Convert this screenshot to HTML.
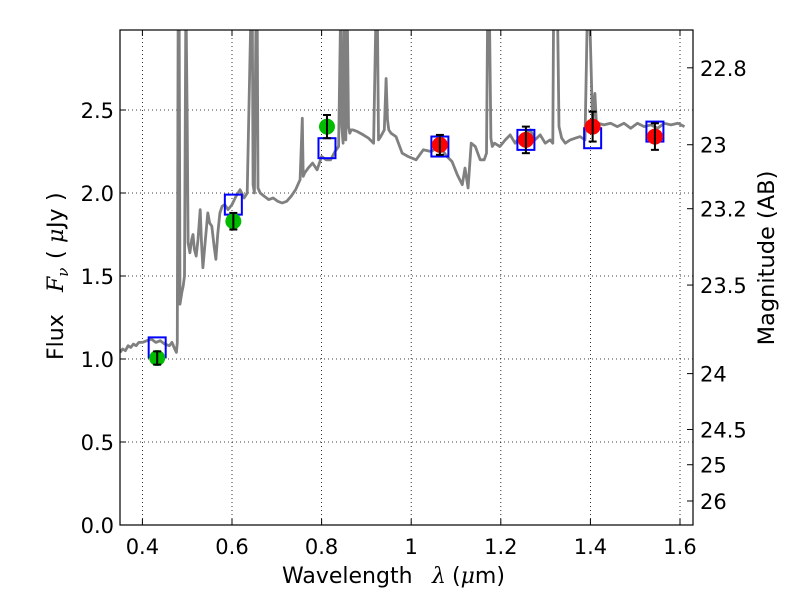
<!DOCTYPE html>
<html><head><meta charset="utf-8"><style>
body{margin:0;background:#fff;}
svg text{font-family:"DejaVu Sans","Liberation Sans",sans-serif;}
</style></head><body>
<svg id="c" width="800" height="600" viewBox="0 0 800 600" xmlns="http://www.w3.org/2000/svg">
<defs><clipPath id="clip"><rect x="120" y="30" width="573" height="495"/></clipPath></defs>
<rect x="0" y="0" width="800" height="600" fill="#fff"/>
<g id="grid"></g>
<g id="spec" clip-path="url(#clip)"></g>
<g id="marks"></g>
<rect x="120" y="30" width="573" height="495" fill="none" stroke="#000" stroke-width="1.2"/>
<g id="axes"></g>
<text y="583" font-size="22"><tspan x="282">Wavelength</tspan><tspan x="432" font-style="italic" font-family="DejaVu Serif,serif">λ</tspan><tspan x="452">(<tspan font-style="italic" font-family="DejaVu Serif,serif">μ</tspan>m)</tspan></text>
<text transform="translate(63,0) rotate(-90)" font-size="22"><tspan x="-360">Flux</tspan><tspan x="-292" font-style="italic" font-family="DejaVu Serif,serif">F</tspan><tspan font-style="italic" font-size="15" dy="5" font-family="DejaVu Serif,serif">ν</tspan><tspan x="-259" dy="-5">(</tspan><tspan x="-243" font-style="italic" font-family="DejaVu Serif,serif">μ</tspan><tspan x="-228">Jy</tspan><tspan x="-201">)</tspan></text>
<text transform="translate(774,258) rotate(-90)" font-size="22.5" text-anchor="middle">Magnitude (AB)</text>
</svg>
<script>
const xTicks=[0.4,0.6,0.8,1.0,1.2,1.4,1.6];
const xTickLabels=["0.4","0.6","0.8","1","1.2","1.4","1.6"];
const yTicks=[0,0.5,1.0,1.5,2.0,2.5];
const yTickLabels=["0.0","0.5","1.0","1.5","2.0","2.5"];
const magTicks=[22.8,23,23.2,23.5,24,24.5,25,26];
const magTickLabels=["22.8","23","23.2","23.5","24","24.5","25","26"];
const specLam=[0.350,0.356,0.362,0.368,0.374,0.380,0.386,0.392,0.400,0.410,0.420,0.430,0.440,0.450,0.460,0.466,0.472,0.476,0.478,0.480,0.482,0.484,0.488,0.491,0.494,0.497,0.500,0.502,0.506,0.510,0.513,0.516,0.520,0.524,0.529,0.532,0.535,0.540,0.546,0.550,0.555,0.560,0.564,0.568,0.573,0.578,0.584,0.591,0.600,0.609,0.618,0.627,0.634,0.643,0.645,0.647,0.650,0.654,0.656,0.658,0.663,0.672,0.682,0.692,0.702,0.712,0.722,0.732,0.742,0.752,0.757,0.759,0.762,0.770,0.780,0.790,0.800,0.810,0.820,0.830,0.838,0.843,0.845,0.848,0.851,0.854,0.857,0.860,0.863,0.866,0.870,0.880,0.893,0.905,0.916,0.922,0.924,0.927,0.932,0.940,0.944,0.947,0.950,0.955,0.966,0.980,0.993,1.011,1.027,1.044,1.064,1.080,1.091,1.103,1.114,1.120,1.127,1.134,1.143,1.154,1.163,1.168,1.171,1.174,1.178,1.181,1.186,1.198,1.210,1.221,1.232,1.243,1.255,1.266,1.276,1.288,1.299,1.310,1.316,1.318,1.326,1.330,1.336,1.344,1.355,1.366,1.377,1.388,1.394,1.397,1.405,1.410,1.414,1.418,1.430,1.445,1.460,1.475,1.490,1.505,1.520,1.535,1.550,1.565,1.580,1.595,1.610,1.629];
const specFlux=[1.04,1.06,1.05,1.08,1.07,1.09,1.08,1.10,1.10,1.11,1.12,1.10,1.11,1.09,1.08,1.10,1.06,1.04,1.10,3.2,3.2,1.33,1.40,1.44,1.50,3.2,2.44,1.70,1.64,1.72,1.75,1.66,1.62,1.72,1.90,1.70,1.55,1.70,1.88,1.82,1.80,1.68,1.60,1.75,1.88,1.92,1.93,1.90,1.93,1.98,2.02,1.97,2.00,3.2,3.2,2.05,2.00,3.2,3.2,2.03,2.00,1.98,1.96,1.97,1.95,1.94,1.95,1.98,2.02,2.08,2.45,2.10,2.12,2.15,2.18,2.14,2.22,2.20,2.20,2.25,2.28,3.2,2.40,2.30,3.2,2.32,3.2,2.40,2.36,2.38,2.38,2.37,2.35,2.33,2.30,3.2,3.2,2.32,2.34,2.38,2.69,2.44,2.38,2.36,2.34,2.24,2.22,2.20,2.26,2.25,2.28,2.22,2.19,2.11,2.05,2.15,2.03,2.30,2.28,2.20,2.20,2.24,3.2,3.2,2.33,2.28,2.30,2.28,2.32,2.35,2.30,2.34,2.36,2.38,2.32,2.35,2.30,2.32,2.30,3.2,3.2,2.40,2.33,2.30,2.32,2.33,2.34,2.32,3.2,3.2,2.42,2.60,2.38,2.42,2.41,2.42,2.40,2.42,2.39,2.42,2.40,2.41,2.39,2.42,2.41,2.42,2.40];
const greenLam=[0.433,0.603,0.812];
const greenFlux=[1.006,1.83,2.40];
const greenErr=[0.04,0.05,0.07];
const redLam=[1.064,1.256,1.405,1.544];
const redFlux=[2.29,2.32,2.40,2.34];
const redErr=[0.06,0.08,0.09,0.08];
const modelLam=[0.433,0.603,0.812,1.064,1.256,1.405,1.544];
const modelFlux=[1.07,1.93,2.27,2.28,2.32,2.33,2.37];

const NS="http://www.w3.org/2000/svg";
const X0=120,X1=693,Y0=525,Y1=30,LMIN=0.35,LMAX=1.629,FMIN=0,FMAX=2.982;
function sx(l){return X0+(l-LMIN)/(LMAX-LMIN)*(X1-X0);}
function sy(f){return Y0-(f-FMIN)/(FMAX-FMIN)*(Y0-Y1);}
function magToFlux(m){return Math.pow(10,(23.9-m)/2.5);}
function mk(tag,attrs,parent){const e=document.createElementNS(NS,tag);for(const k in attrs)e.setAttribute(k,attrs[k]);parent.appendChild(e);return e;}
const grid=document.getElementById('grid'),axes=document.getElementById('axes'),spec=document.getElementById('spec'),marks=document.getElementById('marks');

xTicks.forEach((t,i)=>{const x=sx(t);
 const g=mk('line',{x1:x,x2:x,y1:Y1,y2:Y0,stroke:'#000','stroke-width':0.8,'stroke-dasharray':'1,3'},grid);
 
 
 mk('line',{x1:x,x2:x,y1:Y0,y2:Y0-6,stroke:'#000'},axes);
 mk('line',{x1:x,x2:x,y1:Y1,y2:Y1+6,stroke:'#000'},axes);
 const tx=mk('text',{x:x,y:Y0+29,'font-size':21,'text-anchor':'middle'},axes);tx.textContent=xTickLabels[i];
 
 
});
yTicks.forEach((t,i)=>{const y=sy(t);
 const g=mk('line',{x1:X0,x2:X1,y1:y,y2:y,stroke:'#000','stroke-width':0.8,'stroke-dasharray':'1,3'},grid);
 
 
 mk('line',{x1:X0,x2:X0+6,y1:y,y2:y,stroke:'#000'},axes);
 const tx=mk('text',{x:X0-6,y:y+8,'font-size':21,'text-anchor':'end'},axes);tx.textContent=yTickLabels[i];
 
 
});
magTicks.forEach((m,i)=>{const y=sy(magToFlux(m));
 mk('line',{x1:X1,x2:X1-6,y1:y,y2:y,stroke:'#000'},axes);
 const tx=mk('text',{x:X1+7,y:y+8,'font-size':21},axes);tx.textContent=magTickLabels[i];
 
 
});
const pts=specLam.map((l,i)=>sx(l).toFixed(1)+','+sy(specFlux[i]).toFixed(1)).join(' ');
const pl=mk('polyline',{points:pts,fill:'none',stroke:'#808080','stroke-width':2.8,'stroke-linejoin':'round'},spec);



modelLam.forEach((l,i)=>{const x=sx(l),y=sy(modelFlux[i]);
 const r=mk('rect',{x:x-8.5,y:y-10,width:17,height:20,fill:'none',stroke:'#0000ff','stroke-width':2},marks);
 
 
});
function drawPts(lams,fl,er,color,name){lams.forEach((l,i)=>{const x=sx(l),y=sy(fl[i]);
 const c=mk('circle',{cx:x,cy:y,r:8,fill:color},marks);
 
 
 const yt=sy(fl[i]+er[i]),yb=sy(fl[i]-er[i]);
 mk('line',{x1:x,x2:x,y1:yt,y2:yb,stroke:'#000','stroke-width':2},marks);
 mk('line',{x1:x-4,x2:x+4,y1:yt,y2:yt,stroke:'#000','stroke-width':2},marks);
 mk('line',{x1:x-4,x2:x+4,y1:yb,y2:yb,stroke:'#000','stroke-width':2},marks);
});}
drawPts(greenLam,greenFlux,greenErr,'#00bb00','optical-data-point');
drawPts(redLam,redFlux,redErr,'#ff0000','nir-data-point');
</script>
</body></html>
